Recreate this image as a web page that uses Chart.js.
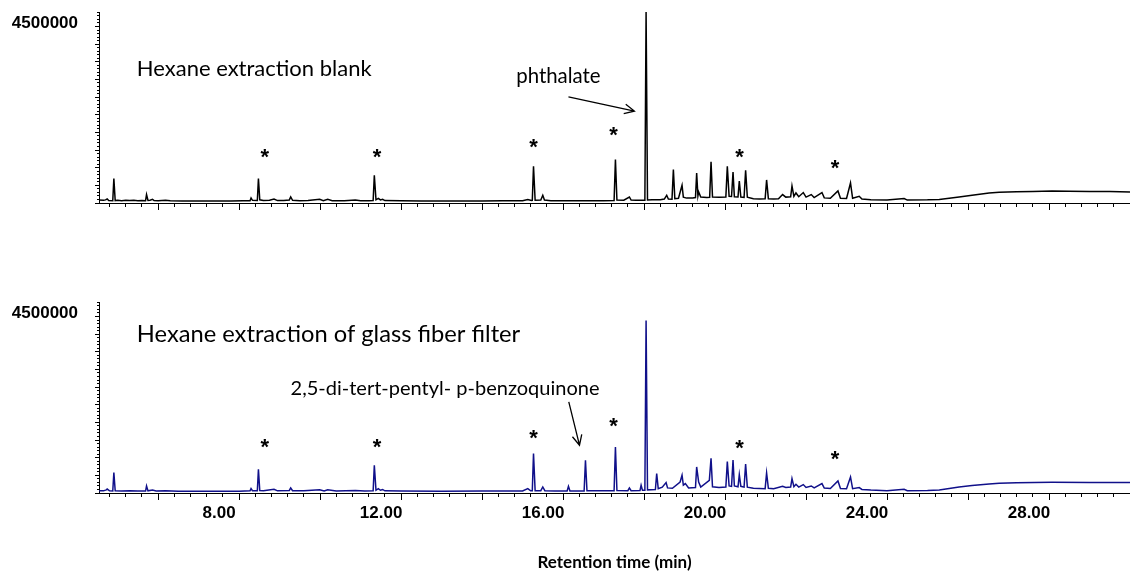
<!DOCTYPE html>
<html><head><meta charset="utf-8">
<script src="https://cdn.jsdelivr.net/npm/chart.js@4/dist/chart.umd.min.js"></script>
<style>
html,body{margin:0;padding:0;background:#fff;width:1130px;height:579px;overflow:hidden}
canvas{position:absolute;left:0}
</style></head><body>
<canvas id="top" style="top:0" width="1130" height="290"></canvas>
<canvas id="bot" style="top:290px" width="1130" height="289"></canvas>
<script>
// Retention time (min), abundance
const blankPoints = [
[4.54,75000],[4.65,70000],[4.70,80000],[4.742,102000],[4.78,65000],[4.88,60000],[4.907,623000],[4.94,62000],[5.00,70000],[5.10,60000],[5.20,70000],[5.30,62000],[5.40,68000],[5.50,60000],[5.60,65000],[5.69,60000],[5.714,215000],[5.75,65000],[5.80,72000],[5.862,94000],[5.90,62000],[6.00,58000],[6.183,69000],[6.30,55000],[6.60,52000],[7.00,50000],[7.40,53000],[7.80,50000],[8.10,55000],[8.27,60000],[8.295,128000],[8.33,68000],[8.45,65000],[8.477,623000],[8.51,80000],[8.60,65000],[8.75,70000],[8.862,102000],[8.95,62000],[9.10,65000],[9.24,78000],[9.274,153000],[9.32,70000],[9.50,60000],[9.70,65000],[9.99,94000],[10.08,60000],[10.187,94000],[10.30,58000],[10.60,55000],[10.87,75000],[11.00,55000],[11.20,60000],[11.31,62000],[11.339,708000],[11.38,82000],[11.438,120000],[11.49,80000],[11.544,94000],[11.60,62000],[12.00,55000],[12.50,52000],[13.00,50000],[13.50,51000],[14.00,52000],[14.50,55000],[15.00,56000],[15.129,90000],[15.22,62000],[15.24,65000],[15.27,938000],[15.31,72000],[15.45,75000],[15.499,197000],[15.54,75000],[15.70,60000],[16.00,58000],[16.50,58000],[17.00,60000],[17.26,65000],[17.293,1109000],[17.33,75000],[17.50,70000],[17.638,153000],[17.68,75000],[17.80,72000],[18.02,68000],[18.05,4870000],[18.085,78000],[18.20,80000],[18.40,85000],[18.50,100000],[18.559,197000],[18.60,100000],[18.69,95000],[18.724,853000],[18.76,110000],[18.85,120000],[18.938,452000],[18.97,150000],[19.05,125000],[19.20,130000],[19.27,140000],[19.299,767000],[19.33,180000],[19.348,281000],[19.40,150000],[19.55,140000],[19.62,145000],[19.654,1048000],[19.69,150000],[19.85,145000],[20.02,150000],[20.056,938000],[20.10,170000],[20.16,165000],[20.197,792000],[20.23,160000],[20.32,155000],[20.352,562000],[20.39,150000],[20.47,140000],[20.508,835000],[20.55,150000],[20.70,110000],[20.85,100000],[20.99,105000],[21.026,588000],[21.07,110000],[21.20,100000],[21.32,110000],[21.421,215000],[21.50,150000],[21.62,160000],[21.653,434000],[21.70,170000],[21.751,256000],[21.82,160000],[21.932,266000],[22.00,150000],[22.129,215000],[22.20,140000],[22.393,266000],[22.45,130000],[22.60,120000],[22.788,307000],[22.85,120000],[23.00,115000],[23.098,511000],[23.15,120000],[23.313,171000],[23.38,100000],[23.60,80000],[24.00,75000],[24.423,112000],[24.50,75000],[25.00,80000],[25.29,90000],[25.78,153000],[26.10,200000],[26.52,256000],[26.77,273000],[27.20,285000],[27.60,295000],[28.075,307000],[28.50,300000],[29.00,295000],[29.50,292000],[30.00,281000]
];
const filterPoints = [
[4.54,60000],[4.65,55000],[4.72,80000],[4.742,100000],[4.80,55000],[4.88,50000],[4.907,521000],[4.94,55000],[5.10,50000],[5.30,55000],[5.50,48000],[5.69,50000],[5.714,179000],[5.75,55000],[5.862,75000],[5.95,50000],[6.183,60000],[6.50,45000],[7.00,42000],[7.50,45000],[8.00,45000],[8.27,55000],[8.295,112000],[8.33,60000],[8.45,55000],[8.477,606000],[8.51,65000],[8.60,60000],[8.862,94000],[8.95,55000],[9.24,65000],[9.274,128000],[9.32,60000],[9.60,55000],[9.99,80000],[10.10,52000],[10.187,80000],[10.40,50000],[10.87,65000],[11.10,50000],[11.31,55000],[11.339,708000],[11.38,70000],[11.438,110000],[11.49,70000],[11.544,90000],[11.60,55000],[12.00,50000],[13.00,45000],[14.00,48000],[15.00,50000],[15.129,112000],[15.20,55000],[15.24,55000],[15.27,1007000],[15.31,60000],[15.45,60000],[15.499,153000],[15.55,60000],[15.80,50000],[16.10,50000],[16.133,171000],[16.17,50000],[16.52,50000],[16.553,835000],[16.59,55000],[17.00,55000],[17.26,60000],[17.293,1175000],[17.33,65000],[17.60,60000],[17.638,128000],[17.68,60000],[17.90,65000],[17.927,197000],[17.96,70000],[18.02,70000],[18.05,4395000],[18.085,80000],[18.28,90000],[18.312,496000],[18.35,110000],[18.45,150000],[18.544,266000],[18.58,130000],[18.70,120000],[18.89,281000],[18.938,452000],[18.97,200000],[19.02,240000],[19.10,130000],[19.27,140000],[19.299,664000],[19.348,281000],[19.40,150000],[19.612,324000],[19.654,887000],[19.69,160000],[19.85,140000],[20.02,150000],[20.056,802000],[20.10,180000],[20.16,170000],[20.197,843000],[20.23,180000],[20.32,160000],[20.352,470000],[20.39,170000],[20.47,150000],[20.508,741000],[20.55,150000],[20.70,120000],[20.99,110000],[21.026,511000],[21.07,120000],[21.20,110000],[21.421,171000],[21.50,140000],[21.62,150000],[21.653,368000],[21.70,160000],[21.751,222000],[21.82,150000],[21.932,215000],[22.00,140000],[22.129,179000],[22.20,130000],[22.393,240000],[22.45,125000],[22.60,115000],[22.788,307000],[22.85,115000],[23.00,110000],[23.098,409000],[23.15,110000],[23.313,138000],[23.38,90000],[23.60,75000],[24.00,60000],[24.423,94000],[24.50,60000],[25.00,65000],[25.29,75000],[25.78,153000],[26.10,190000],[26.52,230000],[26.77,250000],[27.20,260000],[28.075,275000],[29.00,270000],[30.00,265000]
];
const xLabelValues = [8, 12, 16, 20, 24, 28];
const yLabelValues = [4500000];
const xRange = [4.54, 30.0];
const yRange = [0, 4870000];

const annotTop = {
  texts: [
    {text: 'Hexane extraction blank', x: 5.474, y: 3237000, font: '22px Lato', align: 'left'},
    {text: 'phthalate', x: 14.843, y: 3066000, font: '20.4px Lato', align: 'left'}
  ],
  arrows: [{from: [16.133, 2708000], to: [17.762, 2343000]}],
  stars: [[8.633,1262000],[11.403,1262000],[15.270,1518000],[17.244,1814000],[20.36,1262000],[22.713,981000]]
};
const annotBot = {
  texts: [
    {text: 'Hexane extraction of glass fiber filter', x: 5.474, y: 3843000, font: '23.7px Lato', align: 'left'},
    {text: '2,5-di-tert-pentyl- p-benzoquinone', x: 16.898, y: 2496000, font: '20px Lato', align: 'right'}
  ],
  arrows: [{from: [16.141, 2325000], to: [16.405, 1219000]}],
  stars: [[8.633,1262000],[11.403,1262000],[15.270,1500000],[17.244,1806000],[20.36,1244000],[22.713,965000]]
};

const annotPlugin = {
  id: 'annot',
  afterDraw(chart, args, opts) {
    const ctx = chart.ctx, xs = chart.scales.x, ys = chart.scales.y;
    ctx.save();
    ctx.fillStyle = '#000'; ctx.strokeStyle = '#000';
    for (const t of opts.texts) {
      ctx.font = t.font; ctx.textAlign = t.align; ctx.textBaseline = 'alphabetic';
      ctx.fillText(t.text, xs.getPixelForValue(t.x), ys.getPixelForValue(t.y));
    }
    ctx.lineWidth = 1.3;
    for (const a of opts.arrows) {
      const x1 = xs.getPixelForValue(a.from[0]), y1 = ys.getPixelForValue(a.from[1]);
      const x2 = xs.getPixelForValue(a.to[0]), y2 = ys.getPixelForValue(a.to[1]);
      const ang = Math.atan2(y2 - y1, x2 - x1), L = 11, w = 0.45;
      ctx.beginPath(); ctx.moveTo(x1, y1); ctx.lineTo(x2, y2);
      ctx.moveTo(x2 - L*Math.cos(ang - w), y2 - L*Math.sin(ang - w)); ctx.lineTo(x2, y2);
      ctx.lineTo(x2 - L*Math.cos(ang + w), y2 - L*Math.sin(ang + w));
      ctx.stroke();
    }
    ctx.font = 'bold 22px "Liberation Sans"'; ctx.textAlign = 'center'; ctx.textBaseline = 'alphabetic';
    const m = ctx.measureText('*');
    const off = (m.actualBoundingBoxAscent - m.actualBoundingBoxDescent) / 2;
    for (const s of opts.stars) {
      ctx.fillText('*', xs.getPixelForValue(s[0]), ys.getPixelForValue(s[1]) + off);
    }
    ctx.restore();
  }
};

function isLabelled(v, list) { return list.some(l => Math.abs(l - v) < 1e-6); }

function makeChart(id, points, color, annot, isBottom, canvasH) {
  return new Chart(document.getElementById(id), {
    type: 'line',
    data: {datasets: [{
      data: points.map(p => ({x: p[0], y: p[1]})),
      borderColor: color, borderWidth: 1.5, pointRadius: 0, tension: 0, fill: false
    }]},
    options: {
      responsive: false, animation: false, devicePixelRatio: 1,
      layout: {padding: {top: 12, left: 0, right: 0, bottom: 0}},
      plugins: {legend: {display: false}, tooltip: {enabled: false}, annot: annot},
      scales: {
        x: {
          type: 'linear', min: xRange[0], max: xRange[1],
          afterBuildTicks: s => {
            const t = [];
            for (let k = Math.ceil(xRange[0] / 0.4 - 1e-9); k * 0.4 <= xRange[1] + 1e-9; k++) t.push({value: Math.round(k * 4) / 10});
            s.ticks = t;
          },
          afterFit: s => { s.height = canvasH - 203; s.paddingLeft = 0; s.paddingRight = 0; },
          grid: {
            drawOnChartArea: false, drawTicks: true, tickLength: 7, tickColor: '#000', tickWidth: 1,
            tickBorderDash: c => (c.tick && Math.abs(c.tick.value / 2 - Math.round(c.tick.value / 2)) < 1e-6) ? [] : [3, 20]
          },
          border: {display: true, color: '#000', width: 1},
          ticks: {
            autoSkip: false, maxRotation: 0, minRotation: 0, padding: 3, labelOffset: -20,
            color: '#000', font: {family: '"Liberation Sans", Arial', weight: 'bold', size: 17},
            callback: v => (isBottom && isLabelled(v, xLabelValues)) ? v.toFixed(2) : ''
          },
          title: {
            display: isBottom, text: 'Retention time (min)', color: '#000',
            font: {family: 'Lato', weight: 'bold', size: 17}, padding: {top: 0, bottom: 6}
          }
        },
        y: {
          type: 'linear', min: yRange[0], max: yRange[1],
          afterBuildTicks: s => {
            const t = [];
            for (let k = 0; k * 90000 <= yRange[1]; k++) t.push({value: k * 90000});
            s.ticks = t;
          },
          afterFit: s => { s.width = 99; s.paddingTop = 0; s.paddingBottom = 0; },
          grid: {
            drawOnChartArea: false, drawTicks: true, tickLength: 4, tickColor: '#000', tickWidth: 1,
            tickBorderDash: c => (c.tick && c.tick.value % 450000 === 0) ? [] : [0, 2, 2, 10]
          },
          border: {display: true, color: '#000', width: 1},
          ticks: {
            autoSkip: false, padding: 17, labelOffset: -3, color: '#000',
            font: {family: '"Liberation Sans", Arial', weight: 'bold', size: 17},
            callback: v => isLabelled(v, yLabelValues) ? String(v) : ''
          }
        }
      }
    },
    plugins: [annotPlugin]
  });
}

makeChart('top', blankPoints, '#000000', annotTop, false, 290);
makeChart('bot', filterPoints, '#10108a', annotBot, true, 289);
</script>
</body></html>
